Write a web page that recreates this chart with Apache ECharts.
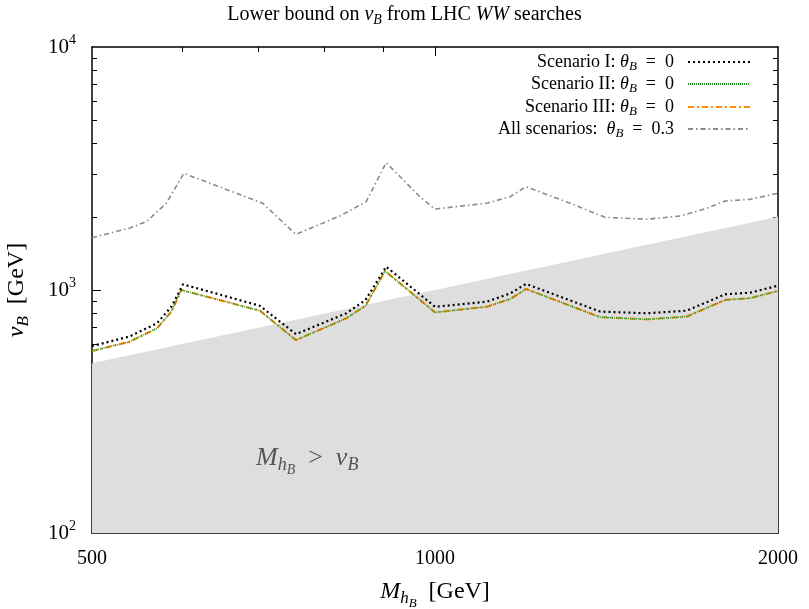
<!DOCTYPE html>
<html><head><meta charset="utf-8">
<script src="https://cdn.jsdelivr.net/npm/echarts@6/dist/echarts.min.js"></script>
<style>html,body{margin:0;padding:0;background:#fff}#c{width:809px;height:609px}</style>
</head><body><div id="c"></div>
<script>
// ---- data ----
const regionX = [500, 2000];
const regionY = [500, 2000];

const s1X = [500, 539, 570, 587, 601, 702, 755, 836, 869, 906, 1000, 1110, 1164, 1202, 1396, 1534, 1663, 1797, 1890, 2000];
const s1Y = [588, 643, 729, 853, 1055, 861, 658, 802, 910, 1247, 853, 895, 968, 1059, 815, 802, 822, 960, 975, 1042];

const s2X = [500, 539, 570, 587, 599, 702, 755, 836, 869, 904, 1000, 1110, 1164, 1202, 1396, 1534, 1663, 1797, 1890, 2000];
const s2Y = [561, 612, 695, 815, 1000, 822, 622, 765, 861, 1197, 809, 853, 918, 1010, 773, 757, 777, 910, 925, 991];

const s3X = [500, 539, 570, 587, 599, 702, 755, 836, 869, 904, 1000, 1110, 1164, 1202, 1396, 1534, 1663, 1797, 1890, 2000];
const s3Y = [561, 612, 695, 815, 1000, 822, 622, 765, 861, 1197, 809, 853, 918, 1010, 773, 757, 777, 910, 925, 991];

const s4X = [500, 539, 558, 581, 602, 706, 755, 825, 870, 906, 970, 1000, 1110, 1164, 1202, 1314, 1410, 1534, 1641, 1731, 1797, 1890, 2000];
const s4Y = [1641, 1795, 1910, 2275, 3020, 2275, 1694, 2016, 2306, 3342, 2420, 2154, 2275, 2420, 2661, 2275, 1991, 1955, 2016, 2167, 2323, 2361, 2500];

const xLabels = [500, 1000, 2000];
const xMajor = [1000];
const xMinor = [600, 700, 800, 900];
const yLabels = [100, 1000, 10000];
const yMajor = [1000];
const yMinor = [200, 300, 400, 500, 600, 700, 800, 900, 2000, 3000, 4000, 5000, 6000, 7000, 8000, 9000];

const names = ['Scenario I', 'Scenario II', 'Scenario III', 'All scenarios'];
const legendText = {
  'Scenario I': '{t|Scenario I: }{i|θ}{sub|B}{t|  =  0}',
  'Scenario II': '{t|Scenario II: }{i|θ}{sub|B}{t|  =  0}',
  'Scenario III': '{t|Scenario III: }{i|θ}{sub|B}{t|  =  0}',
  'All scenarios': '{t|All scenarios:  }{i|θ}{sub|B}{t|  =  0.3}'
};

const zip = (a, b) => a.map((v, i) => [v, b[i]]);
const FONT = 'Liberation Serif';

const richMath = (fs, col) => {
  col = col || '#000';
  return {
    t: {fontFamily: FONT, fontSize: fs, color: col, fill: col},
    i: {fontFamily: FONT, fontSize: fs, fontStyle: 'italic', color: col, fill: col},
    sub: {fontFamily: FONT, fontSize: Math.round(fs * 0.7), fontStyle: 'italic', color: col, fill: col, padding: [Math.round(fs * 0.55), 0, 0, 0]},
    subsub: {fontFamily: FONT, fontSize: Math.round(fs * 0.55), fontStyle: 'italic', color: col, fill: col, padding: [Math.round(fs * 0.95), 0, 0, 0]}
  };
};

const lineBlack = {color: '#000', width: 1.5};

function xAx(pos, ticks, len, showLine, labels) {
  return {
    type: 'log', logBase: 10, min: 500, max: 2000, position: pos,
    axisLine: {show: showLine, onZero: false, lineStyle: lineBlack},
    axisTick: {show: true, inside: true, length: len, customValues: ticks, lineStyle: {color: '#000', width: 1}},
    axisLabel: labels ? {show: true, customValues: xLabels, margin: 16, formatter: v => String(Math.round(v)), fontFamily: FONT, fontSize: 20, color: '#000'} : {show: false},
    splitLine: {show: false}, minorTick: {show: false}
  };
}
function yAx(pos, ticks, len, showLine, labels) {
  return {
    type: 'log', logBase: 10, min: 100, max: 10000, position: pos,
    axisLine: {show: showLine, onZero: false, lineStyle: lineBlack},
    axisTick: {show: true, inside: true, length: len, customValues: ticks, lineStyle: {color: '#000', width: 1}},
    axisLabel: labels ? {
      show: true, customValues: yLabels, margin: 16,
      formatter: v => '{b|10}{s|' + Math.round(Math.log10(v)) + '}',
      rich: {b: {fontFamily: FONT, fontSize: 21, color: '#000'}, s: {fontFamily: FONT, fontSize: 14, color: '#000', padding: [0, 0, 13, 0]}}
    } : {show: false},
    splitLine: {show: false}, minorTick: {show: false}
  };
}

const xAxes = [xAx('bottom', xMajor, 9, true, true), xAx('bottom', xMinor, 5, false, false), xAx('top', xMajor, 9, true, false), xAx('top', xMinor, 5, false, false)];
xAxes[0].name = '{i|M}{sub|h}{subsub|B}{t|  [GeV]}';
xAxes[0].nameLocation = 'middle';
xAxes[0].nameGap = 41;
xAxes[0].nameTextStyle = {rich: richMath(24)};

const yAxes = [yAx('left', yMajor, 9, true, true), yAx('left', yMinor, 5, false, false), yAx('right', yMajor, 9, true, false), yAx('right', yMinor, 5, false, false)];
yAxes[0].name = '{i|v}{sub|B}{t|  [GeV]}';
yAxes[0].nameLocation = 'middle';
yAxes[0].nameGap = 60;
yAxes[0].nameRotate = 90;
yAxes[0].nameTextStyle = {rich: richMath(24)};

const legendTops = [53, 75, 98, 120];
const legends = names.map((n, k) => ({
  data: [n], right: 58, top: legendTops[k], orient: 'vertical', align: 'right',
  itemWidth: 62, itemHeight: 14, padding: 0,
  itemStyle: {opacity: 0, borderWidth: 0},
  formatter: name => legendText[name],
  textStyle: {rich: richMath(18), padding: [0, 9, 0, 0]}
}));

const option = {
  animation: false,
  backgroundColor: '#fff',
  title: {
    text: '{t|Lower bound on }{i|v}{sub|B}{t| from LHC }{i|WW}{t| searches}',
    left: 'center', top: -3,
    textStyle: {fontWeight: 'normal', fontFamily: FONT, color: '#000', rich: richMath(20)}
  },
  grid: {left: 92, right: 31, top: 47, bottom: 76, containLabel: false, outerBoundsMode: 'none'},
  legend: legends,
  xAxis: xAxes,
  yAxis: yAxes,
  graphic: [{
    type: 'text', left: 256, top: 445, z: 100,
    style: {
      text: '{i|M}{sub|h}{subsub|B}{t|  >  }{i|v}{sub|B}',
      rich: richMath(26, '#555')
    }
  }],
  series: [
    {
      name: 'region', type: 'line', data: zip(regionX, regionY), symbol: 'none', silent: true,
      lineStyle: {width: 0}, areaStyle: {color: '#dedede', opacity: 1, origin: 'start'}, z: 1
    },
    {name: 'All scenarios', type: 'line', data: zip(s4X, s4Y), symbol: 'none', lineStyle: {color: '#8a8a8a', width: 1.6, type: [5, 3, 1.5, 3]}, itemStyle: {color: '#8a8a8a'}, z: 3},
    {name: 'Scenario III', type: 'line', data: zip(s3X, s3Y), symbol: 'none', lineStyle: {color: '#ff8c00', width: 2.2, type: [6, 3, 2, 3]}, itemStyle: {color: '#ff8c00'}, z: 3},
    {name: 'Scenario II', type: 'line', data: zip(s2X, s2Y), symbol: 'none', lineStyle: {color: '#1e8c1e', width: 1.3, type: [1, 1]}, itemStyle: {color: '#1e8c1e'}, z: 4},
    {name: 'Scenario I', type: 'line', data: zip(s1X, s1Y), symbol: 'none', lineStyle: {color: '#000', width: 2.2, type: [2, 3]}, itemStyle: {color: '#000'}, z: 5}
  ]
};
const chart = echarts.init(document.getElementById('c'), null, {renderer: 'canvas'});
chart.setOption(option);
</script>
</body></html>
